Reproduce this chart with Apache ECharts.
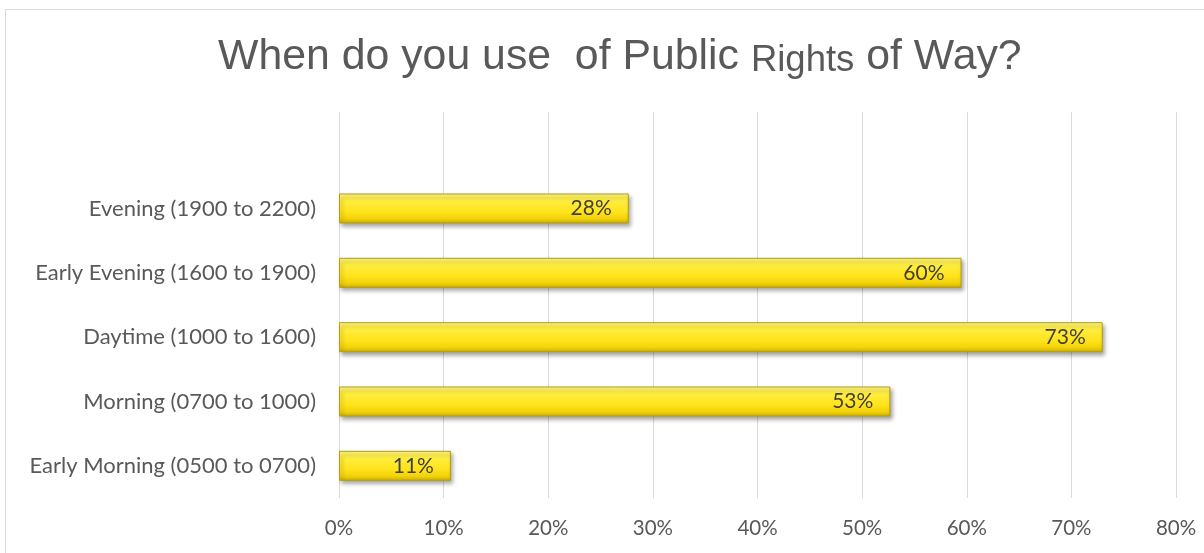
<!DOCTYPE html>
<html><head><meta charset="utf-8">
<script src="https://cdn.jsdelivr.net/npm/echarts@6/dist/echarts.min.js"></script>
<style>html,body{margin:0;padding:0;background:#fff}#c{width:1204px;height:553px}</style>
</head><body><div id="c"></div>
<script>
const categories = ['Early Morning (0500 to 0700)','Morning (0700 to 1000)','Daytime (1000 to 1600)','Early Evening (1600 to 1900)','Evening (1900 to 2200)',''];
const values = [10.7, 52.7, 73.0, 59.5, 27.7, null];
const xTicks = [0,10,20,30,40,50,60,70,80];
const titleParts = ['When do you use  of Public ', 'Rights', ' of Way?'];

const chart = echarts.init(document.getElementById('c'), null, {renderer:'canvas'});
chart.setOption({
  backgroundColor:'#fff',
  animation:false,
  title:{text:'{a|'+titleParts[0]+'}{b|'+titleParts[1]+'}{a|'+titleParts[2]+'}',left:213,top:26,
    textStyle:{fontWeight:'normal',rich:{
      a:{fontFamily:'Liberation Sans',fontWeight:'normal',fontSize:42.8,color:'#595959',verticalAlign:'bottom',lineHeight:48},
      b:{fontFamily:'Liberation Sans',fontWeight:'normal',fontSize:36.5,color:'#595959',verticalAlign:'bottom',lineHeight:48}}}},
  graphic:[{type:'rect',shape:{x:5.5,y:9.5,width:1300,height:600},style:{fill:'none',stroke:'#d9d9d9',lineWidth:1},silent:true}],
  grid:{left:339,right:28,top:112,bottom:55,containLabel:false},
  xAxis:{type:'value',min:xTicks[0],max:xTicks[xTicks.length-1],interval:10,
    axisLine:{show:false},axisTick:{show:false},
    splitLine:{lineStyle:{color:'#d9d9d9',width:1}},
    axisLabel:{formatter:v=>v+'%',color:'#595959',fontSize:20.5,fontFamily:'Lato',margin:20}},
  yAxis:{type:'category',data:categories,
    axisLine:{show:false},axisTick:{show:false},
    axisLabel:{color:'#595959',fontSize:22,fontFamily:'Lato',margin:23}},
  series:[{type:'bar',data:values,barWidth:30,
    itemStyle:{
      color:new echarts.graphic.LinearGradient(0,0,0,1,[
        {offset:0,color:'#FFF7A0'},{offset:0.15,color:'#FFF04A'},{offset:0.6,color:'#FFE41C'},{offset:0.85,color:'#F2D10A'},{offset:1,color:'#C8AE00'}]),
      borderColor:'#B59E10',borderWidth:1,
      shadowColor:'rgba(0,0,0,0.35)',shadowBlur:4,shadowOffsetX:2,shadowOffsetY:3},
    label:{show:true,position:'insideRight',offset:[-12,0],formatter:p=>Math.round(p.value)+'%',color:'#404040',fontSize:21,fontFamily:'Lato'}
  }]
});
</script></body></html>
